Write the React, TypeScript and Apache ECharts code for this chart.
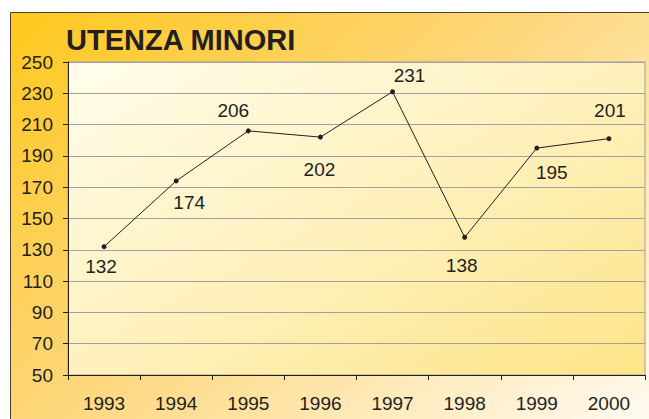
import React, { useEffect, useRef } from "react";
import * as echarts from "echarts";

const titleText = "UTENZA MINORI";
const years = ["1993", "1994", "1995", "1996", "1997", "1998", "1999", "2000"];
const values = [132, 174, 206, 202, 231, 138, 195, 201];
const yMin = 50;
const yMax = 250;
const yStep = 20;

// label placement (style only): offset from the point, in px
const labelOffsets: [number, number][] = [
  [-3, 20],
  [13, 22],
  [-15, -20],
  [-1, 32],
  [17, -16],
  [-3, 28],
  [15, 24],
  [1, -28],
];

const FONT = "'Liberation Sans', Arial, Helvetica, sans-serif";
const TEXT = "#231f20";

export default function App() {
  const ref = useRef<HTMLDivElement>(null);
  useEffect(() => {
    if (!ref.current) return;
    const chart = echarts.init(ref.current, undefined, { renderer: "svg" });
    chart.setOption({
      animation: false,
      backgroundColor: "#ffffff",
      textStyle: { fontFamily: FONT },
      graphic: [
        {
          type: "rect",
          z: -10,
          silent: true,
          shape: { x: 10.5, y: 12.5, width: 700, height: 500 },
          style: {
            fill: new echarts.graphic.LinearGradient(0, 0, 0.93, 0.81, [
              { offset: 0, color: "#ffc81c" },
              { offset: 0.45, color: "#fdd679" },
              { offset: 1, color: "#fffbf3" },
            ]),
            stroke: "#4d402c",
            lineWidth: 1,
          },
        },
        {
          type: "text",
          left: 66,
          top: 25,
          style: {
            text: titleText,
            fontFamily: FONT,
            fontWeight: "bold",
            fontSize: 29,
            fill: TEXT,
          },
        },
      ],
      grid: {
        left: 68,
        top: 62,
        right: 4,
        bottom: 44,
        show: true,
        borderColor: "#a0a0a0",
        borderWidth: 1,
        backgroundColor: new echarts.graphic.LinearGradient(0, 0, 1, 1, [
          { offset: 0, color: "#fffdec" },
          { offset: 0.5, color: "#fef1bd" },
          { offset: 1, color: "#fde487" },
        ]),
      },
      xAxis: {
        type: "category",
        data: years,
        boundaryGap: true,
        axisLine: { show: true, lineStyle: { color: TEXT, width: 1 } },
        axisTick: { show: true, length: 5, inside: false, lineStyle: { color: TEXT } },
        axisLabel: { color: TEXT, fontSize: 19, margin: 19, fontFamily: FONT },
        splitLine: { show: false },
      },
      yAxis: {
        type: "value",
        min: yMin,
        max: yMax,
        interval: yStep,
        axisLine: { show: true, lineStyle: { color: TEXT, width: 1 } },
        axisTick: { show: true, length: 5, lineStyle: { color: TEXT } },
        axisLabel: { color: TEXT, fontSize: 19, margin: 15, fontFamily: FONT },
        splitLine: { show: true, lineStyle: { color: "#a0a0a0", width: 1 } },
      },
      series: [
        {
          type: "line",
          data: values.map((v, i) => ({
            value: v,
            label: { offset: labelOffsets[i] },
          })),
          symbol: "circle",
          symbolSize: 5,
          itemStyle: { color: TEXT },
          lineStyle: { color: TEXT, width: 1 },
          label: {
            show: true,
            position: "inside",
            color: TEXT,
            fontSize: 19,
            fontFamily: FONT,
          },
        },
      ],
    });
    return () => chart.dispose();
  }, []);
  return (
    <div
      ref={ref}
      style={{ position: "fixed", left: 0, top: 0, width: 649, height: 419 }}
    />
  );
}
